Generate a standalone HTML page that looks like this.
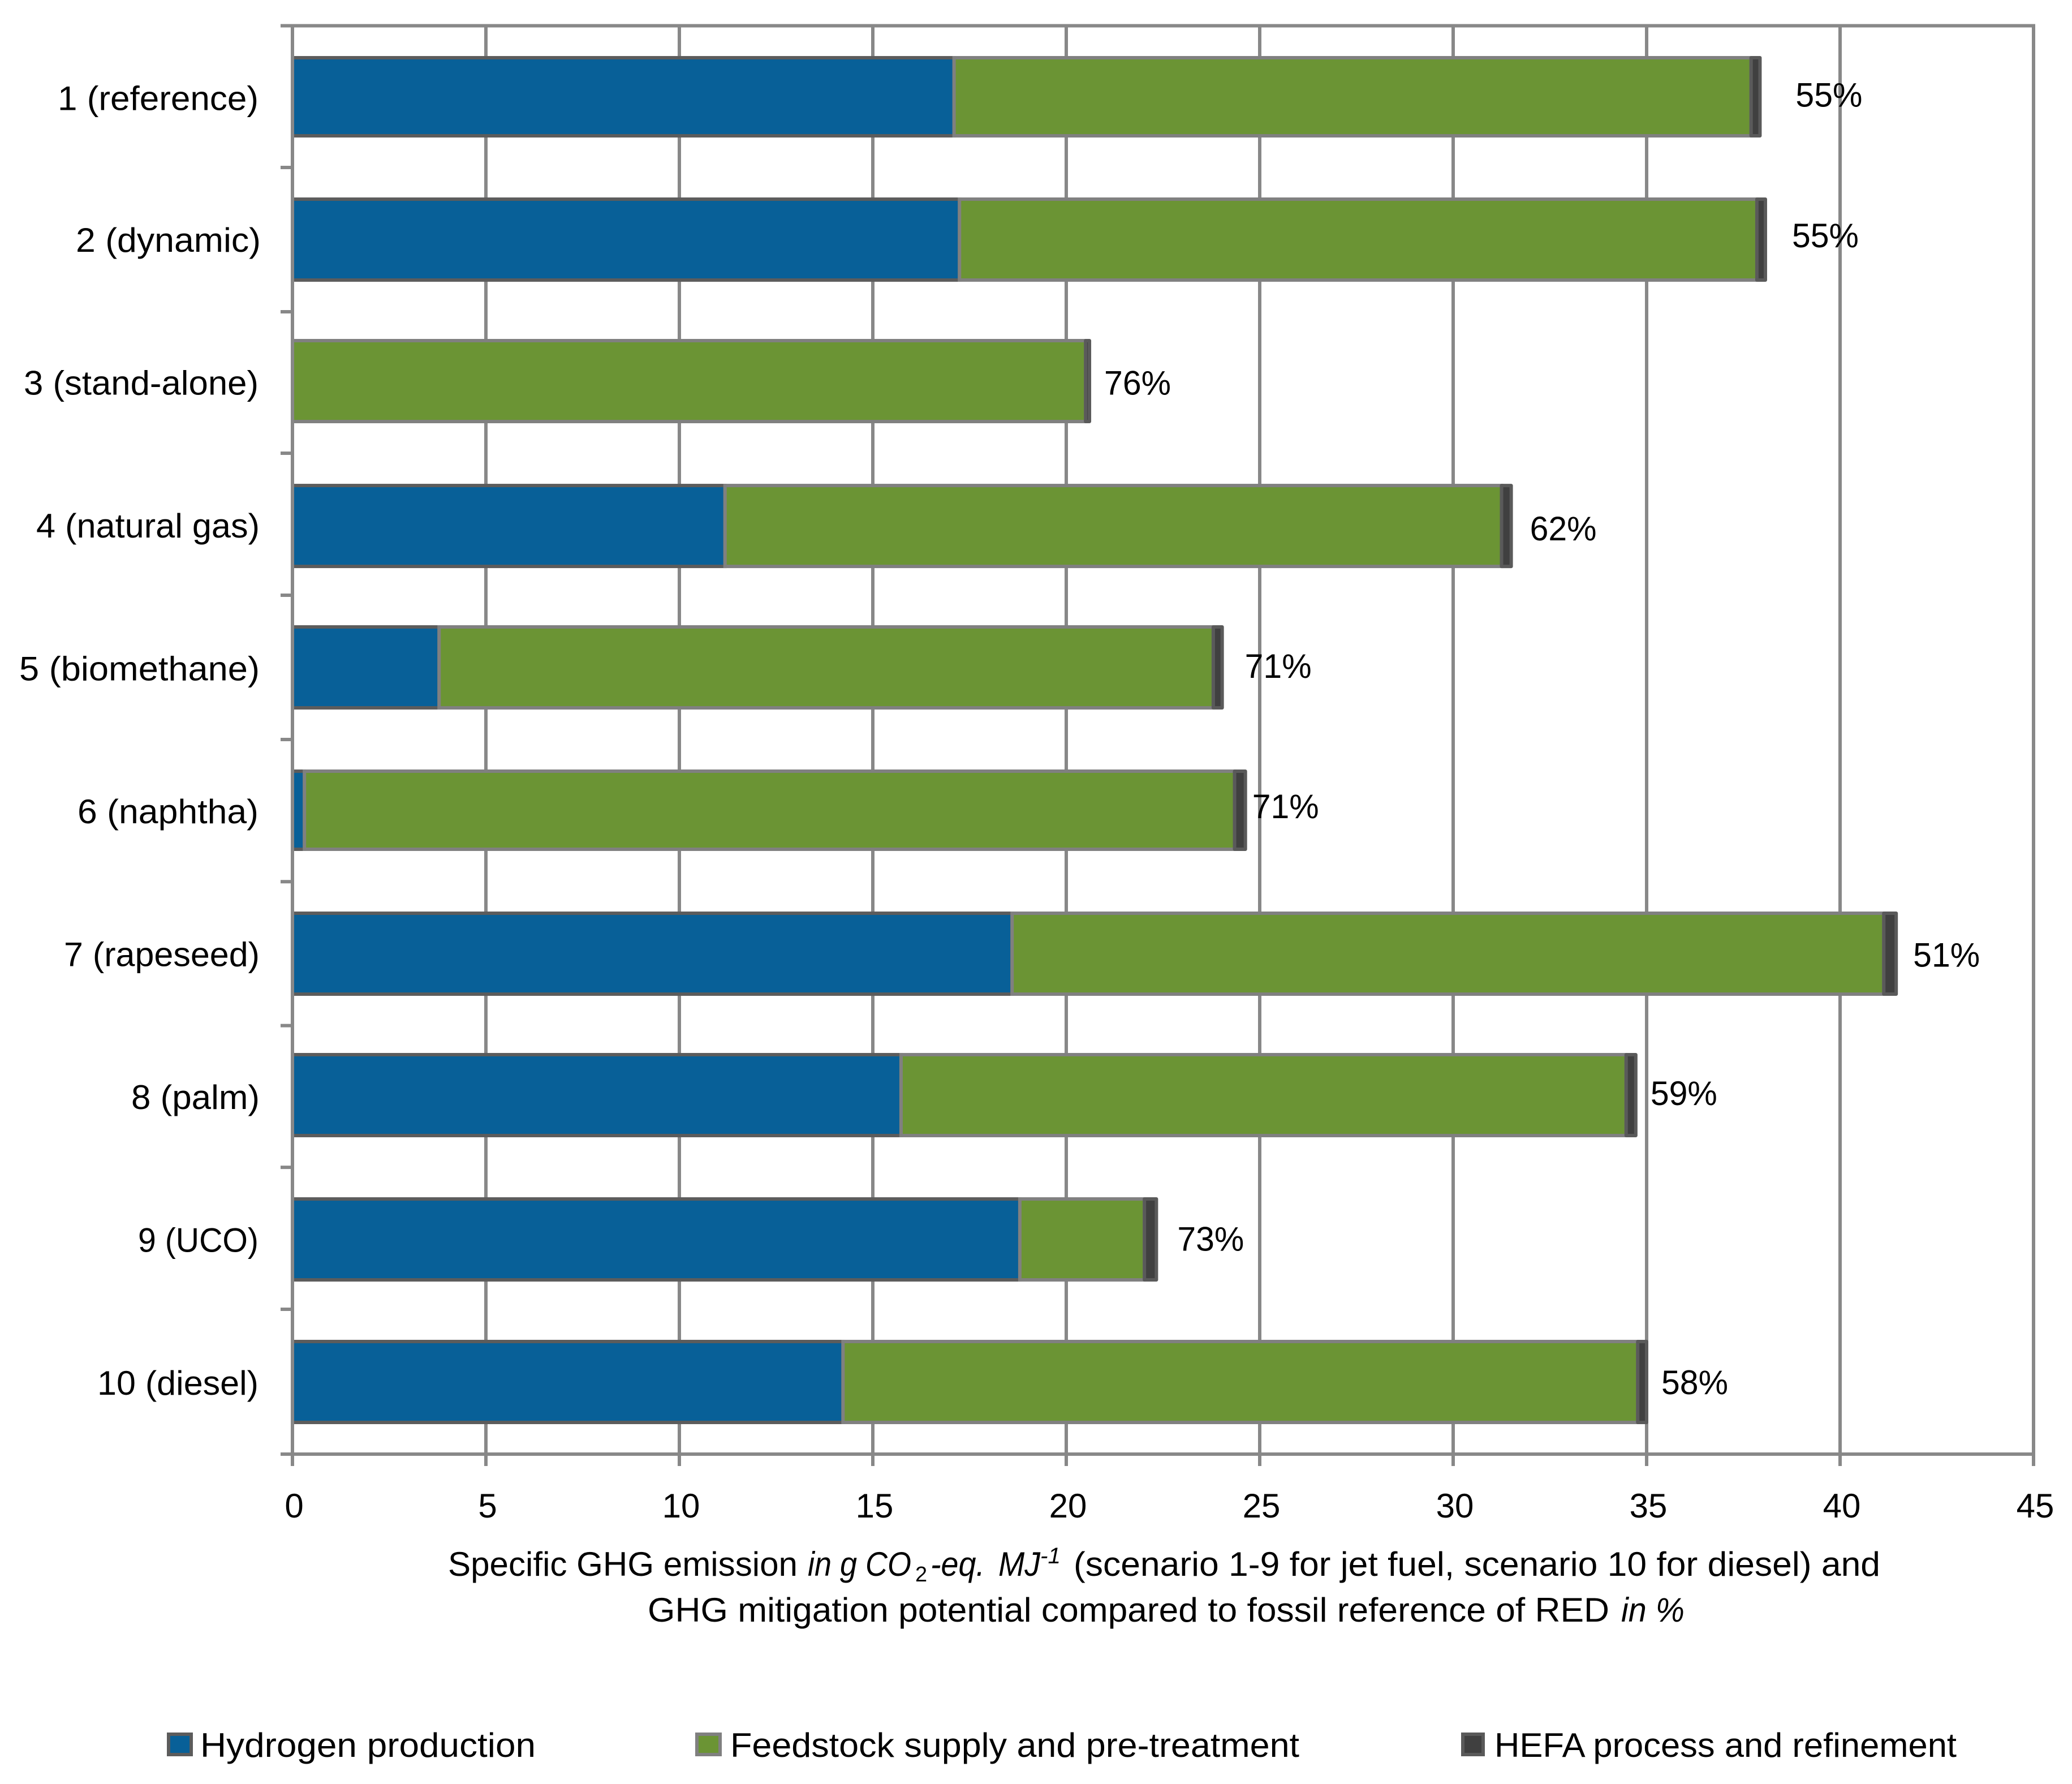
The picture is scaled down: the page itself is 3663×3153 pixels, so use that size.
<!DOCTYPE html>
<html lang="en">
<head>
<meta charset="utf-8">
<title>Specific GHG emission by scenario</title>
<style>
html,body{margin:0;padding:0;background:#fff;width:3663px;height:3153px;overflow:hidden}
svg{display:block}
text{font-family:"Liberation Sans",sans-serif;font-size:60px;fill:#000}
.it{font-style:italic}
</style>
</head>
<body>
<svg id="chart" xmlns="http://www.w3.org/2000/svg" width="3663" height="3153" viewBox="0 0 3663 3153">
  <rect x="0" y="0" width="3663" height="3153" fill="#fff"/>
  <g id="grid"></g>
  <g id="bars"></g>
  <g id="axes"></g>
  <g id="labels"></g>

  <g>
    <text x="792" y="2785" textLength="618" lengthAdjust="spacingAndGlyphs">Specific GHG emission</text>
    <text class="it" x="1428" y="2785" textLength="183" lengthAdjust="spacingAndGlyphs">in g CO</text>
    <text x="1618" y="2795" style="font-size:38px">2</text>
    <text class="it" x="1645" y="2785" textLength="96" lengthAdjust="spacingAndGlyphs">-eq.</text>
    <text class="it" x="1765" y="2785" textLength="74" lengthAdjust="spacingAndGlyphs">MJ</text>
    <text class="it" x="1839" y="2763" style="font-size:40px" textLength="36" lengthAdjust="spacingAndGlyphs">-1</text>
    <text x="1898" y="2785" textLength="1426" lengthAdjust="spacingAndGlyphs">(scenario 1-9 for jet fuel, scenario 10 for diesel) and</text>
    <text x="1145" y="2866" textLength="1700" lengthAdjust="spacingAndGlyphs">GHG mitigation potential compared to fossil reference of RED</text>
    <text class="it" x="2866" y="2866" textLength="112" lengthAdjust="spacingAndGlyphs">in %</text>
  </g>

  <g>
    <g>
      <rect x="298" y="3065" width="40" height="36" fill="#086098" stroke="#5c5c5c" stroke-width="6"/>
      <text x="354" y="3105" textLength="593" lengthAdjust="spacingAndGlyphs">Hydrogen production</text>
    </g>
    <g>
      <rect x="1232" y="3065" width="41" height="36" fill="#6b9434" stroke="#808080" stroke-width="6"/>
      <text x="1291" y="3105" textLength="1006" lengthAdjust="spacingAndGlyphs">Feedstock supply and pre-treatment</text>
    </g>
    <g>
      <rect x="2586" y="3065" width="36" height="36" fill="#404040" stroke="#5a5a5a" stroke-width="6"/>
      <text x="2642" y="3105" textLength="817" lengthAdjust="spacingAndGlyphs">HEFA process and refinement</text>
    </g>
  </g>
</svg>
<script>
// --- chart data ---
var categories = ["1 (reference)","2 (dynamic)","3 (stand-alone)","4 (natural gas)","5 (biomethane)","6 (naphtha)","7 (rapeseed)","8 (palm)","9 (UCO)","10 (diesel)"];
var hydrogen = [17.1,17.24,0,11.18,3.79,0.31,18.6,15.73,18.8,14.23];
var feedstock = [20.6,20.61,20.5,20.07,20.01,24.04,22.53,18.74,3.22,20.54];
var hefa = [0.23,0.22,0.1,0.25,0.23,0.28,0.32,0.25,0.31,0.23];
var mitigation = ["55%","55%","76%","62%","71%","71%","51%","59%","73%","58%"];
var xTicks = [0,5,10,15,20,25,30,35,40,45];

// --- layout (hand-placed offsets of the original figure, not data) ---
var SVG = 'http://www.w3.org/2000/svg';
var X0 = 517, PXU = 68.4, XMAX = 45, TOP = 45.5, BOTTOM = 2570, BARH = 143;
var GRID = '#888888';
var yLabelFit = [355,327,415,395,425,320,346,227,213,285];
var yLabelRightShift = [0,4,0,2,2,0,2,2,0,0];
var pctGap = [60,44,23,30,37,9,27,23,34,23];
var pctLift = [17,13,21,26,16.5,12,22,14,19,20];
var barTopNudge = [1.8,-0.7,-3.1,0.5,-2,0.5,-0.9,-3.4,-0.8,-1.3];
var barBottomNudge = [-3.2,-0.7,-3.1,0.5,-2,-4.5,-0.9,-3.4,-0.8,-1.3];
var tickNudge = [-2,0.6,-1.9,-3.3,-0.8,-2,0,-2,-3.5];

function xs(v){ return X0 + v * PXU; }
function band(){ return (BOTTOM - TOP) / categories.length; }
function yc(i){ return TOP + band() * (i + 0.5); }

function make(tag, parent, name){
  var el = document.createElementNS(SVG, tag);
  
  
  parent.appendChild(el);
  return el;
}
function line(parent, name, x1, y1, x2, y2){
  var l = make('line', parent, name);
  l.setAttribute('x1', x1); l.setAttribute('y1', y1);
  l.setAttribute('x2', x2); l.setAttribute('y2', y2);
  l.setAttribute('stroke', GRID); l.setAttribute('stroke-width', 6);
  return l;
}
function seg(parent, name, from, to, i, fill, stroke, round){
  var cy = yc(i);
  var top = cy - BARH / 2 + barTopNudge[i];
  var bot = cy + BARH / 2 + barBottomNudge[i];
  var r = make('rect', parent, name);
  r.setAttribute('x', xs(from)); r.setAttribute('width', Math.max(0, (to - from) * PXU));
  r.setAttribute('y', top); r.setAttribute('height', bot - top);
  r.setAttribute('fill', fill); r.setAttribute('stroke', stroke); r.setAttribute('stroke-width', 6);
  if (round) r.setAttribute('stroke-linejoin', 'round');
  return r;
}

var gGrid = document.getElementById('grid');
var gBars = document.getElementById('bars');
var gAxes = document.getElementById('axes');
var gLabels = document.getElementById('labels');

// gridlines
xTicks.forEach(function(t){
  if (t === 0) return;
  line(gGrid, 'gridline-x-' + t, xs(t), TOP, xs(t), BOTTOM);
});

// bars
categories.forEach(function(c, i){
  var cy = yc(i);
  var a = hydrogen[i], b = a + feedstock[i], d = b + hefa[i];
  if (a > 0) seg(gBars, 'bar-hydrogen-' + (i + 1), 0, a, i, '#086098', '#5c5c5c');
  seg(gBars, 'bar-feedstock-' + (i + 1), a, b, i, '#6b9434', '#808080');
  seg(gBars, 'bar-hefa-' + (i + 1), b, d, i, '#404040', '#5a5a5a', true);

  var p = make('text', gLabels, 'mitigation-label-' + (i + 1));
  p.setAttribute('x', xs(d) + 3 + pctGap[i]);
  p.setAttribute('y', cy + pctLift[i]);
  p.setAttribute('textLength', 118);
  p.setAttribute('lengthAdjust', 'spacingAndGlyphs');
  p.textContent = mitigation[i];

  var lab = make('text', gAxes, 'y-label-' + (i + 1));
  lab.setAttribute('x', 457 + yLabelRightShift[i] - yLabelFit[i]);
  lab.setAttribute('y', cy + (i === 0 ? 23 : 21));
  lab.setAttribute('textLength', yLabelFit[i]);
  lab.setAttribute('lengthAdjust', 'spacingAndGlyphs');
  lab.textContent = c;
});

// frame
line(gAxes, 'plot-top-border', 496, TOP, xs(XMAX) + 3, TOP);
line(gAxes, 'plot-right-border', xs(XMAX), TOP, xs(XMAX), BOTTOM);
line(gAxes, 'x-axis-line', 496, BOTTOM, xs(XMAX) + 3, BOTTOM);
line(gAxes, 'y-axis-line', X0, TOP, X0, 2591);

// y ticks
for (var k = 1; k < categories.length; k++) {
  var ty = TOP + band() * k + tickNudge[k - 1];
  line(gAxes, 'y-tick-' + k, 496, ty, X0, ty);
}

// x ticks + labels
xTicks.forEach(function(t){
  line(gAxes, 'x-tick-' + t, xs(t), BOTTOM, xs(t), 2591);
  var tl = make('text', gAxes, 'x-tick-label-' + t);
  tl.setAttribute('x', xs(t) + 3);
  tl.setAttribute('y', 2682);
  tl.setAttribute('text-anchor', 'middle');
  tl.textContent = t;
});
</script>
</body>
</html>
